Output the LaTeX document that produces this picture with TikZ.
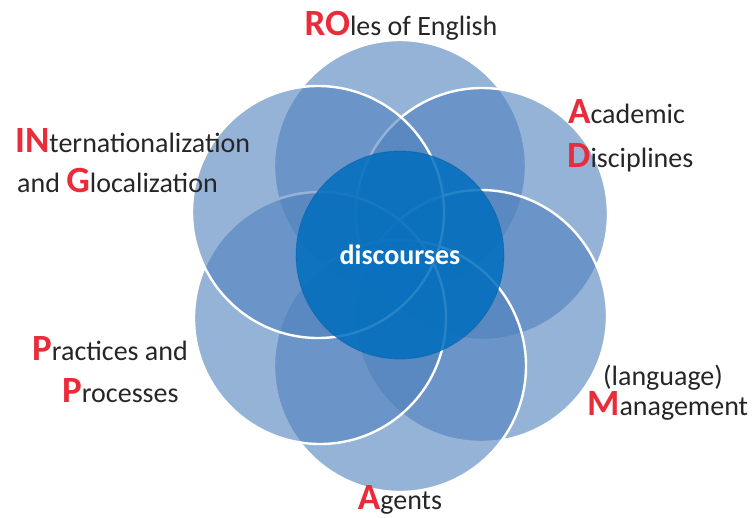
\documentclass[tikz,border=0pt]{standalone}
\usepackage{fontspec}
\setmainfont{Carlito}
\definecolor{petalblue}{RGB}{79,129,189}
\definecolor{coreblue}{RGB}{0,110,190}
\definecolor{myred}{RGB}{232,44,58}
\definecolor{txt}{RGB}{38,38,38}
\newcommand\ini[1]{{\fontsize{37}{37}\selectfont\bfseries\color{myred}#1}}
\begin{document}
\begin{tikzpicture}[x=1pt,y=-1pt,
  petal/.style={circle, minimum size=252pt, inner sep=0pt, fill=petalblue, fill opacity=0.6, draw=white, draw opacity=1, line width=2.4pt},
  core/.style={circle, minimum size=208pt, inner sep=0pt, fill=coreblue, fill opacity=0.85, draw=coreblue!80!black, draw opacity=0.4, line width=0.8pt, text opacity=1, text=white, font=\fontsize{28}{28}\selectfont\bfseries},
  lbl/.style={font=\fontsize{28}{28}\selectfont, text=txt, inner sep=0pt}]
\useasboundingbox (0,0) rectangle (752,517);
% outer circles, drawn in order
\node[petal] (ro) at (400,166) {};
\node[petal] (ac) at (482,214) {};
\node[petal] (ma) at (481,316) {};
\node[petal] (ag) at (400,366) {};
\node[petal] (pr) at (320,318) {};
\node[petal] (in) at (318,212) {};
% centre
\node[core] (core) at (400,255) {discourses};
% labels
\node[lbl, anchor=base] (lro) at (401,35) {\ini{RO}les of English};
\node[lbl, anchor=base west] (lin1) at (15,152) {\ini{IN}ternationalization};
\node[lbl, anchor=base west] (lin2) at (17,192) {and \ini{G}localization};
\node[lbl, anchor=base west] (lac1) at (568,123) {\ini{A}cademic};
\node[lbl, anchor=base west] (lac2) at (567,167) {\ini{D}isciplines};
\node[lbl, anchor=base west] (lpr1) at (32,360) {\ini{P}ractices and};
\node[lbl, anchor=base west] (lpr2) at (62,402) {\ini{P}rocesses};
\node[lbl, anchor=base west] (lma1) at (603,385) {(language)};
\node[lbl, anchor=base west] (lma2) at (587,415) {\ini{M}anagement};
\node[lbl, anchor=base] (lag) at (400,509) {\ini{A}gents};
\end{tikzpicture}
\end{document}
